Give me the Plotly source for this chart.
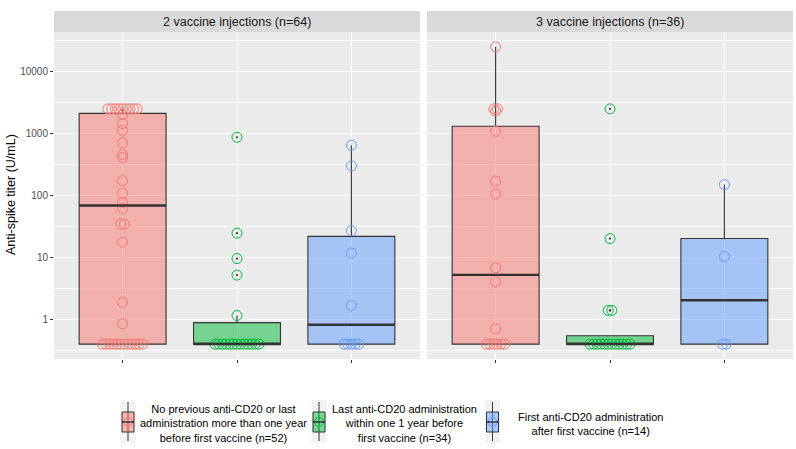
import numpy as np
import plotly.graph_objects as go

# ---------------- data ----------------
facet_labels = ["2 vaccine injections (n=64)", "3 vaccine injections (n=36)"]
group_labels = [
    "No previous anti-CD20 or last<br>administration more than one year<br>before first vaccine (n=52)",
    "Last anti-CD20 administration<br>within one 1 year before<br>first vaccine (n=34)",
    "First anti-CD20 administration<br>after first vaccine (n=14)",
]
group_colors = ["#F8766D", "#00BA38", "#619CFF"]
fill_colors = ["rgba(248,118,109,0.5)", "rgba(0,186,56,0.5)", "rgba(97,156,255,0.5)"]

# 2 vaccine injections
titer_2inj_none = [2500, 2500, 2500, 2500, 2500, 2500, 2500, 2500, 2500,
                   2000, 1450, 1130, 707, 458, 410, 173, 109, 77, 62,
                   34.6, 34.6, 17.7, 1.88, 0.85,
                   0.4, 0.4, 0.4, 0.4, 0.4, 0.4, 0.4, 0.4, 0.4, 0.4, 0.4, 0.4]
titer_2inj_within1y = [870, 24.7, 9.6, 5.2, 1.16,
                       0.4, 0.4, 0.4, 0.4, 0.4, 0.4, 0.4, 0.4, 0.4, 0.4, 0.4, 0.4, 0.4]
titer_2inj_after = [647, 300, 27, 11.7, 1.68, 0.4, 0.4, 0.4, 0.4, 0.4]

# 3 vaccine injections
titer_3inj_none = [25000, 2500, 2500, 2300, 1090, 170, 106, 6.8, 4.05, 0.71,
                   0.4, 0.4, 0.4, 0.4, 0.4, 0.4]
titer_3inj_within1y = [2500, 20.2, 1.4, 1.4,
                       0.4, 0.4, 0.4, 0.4, 0.4, 0.4, 0.4, 0.4, 0.4, 0.4, 0.4, 0.4]
titer_3inj_after = [150, 10.4, 0.4, 0.4]

y_ticks = [1, 10, 100, 1000, 10000]
y_tick_labels = ["1", "10", "100", "1000", "10000"]

panels = [
    [titer_2inj_none, titer_2inj_within1y, titer_2inj_after],
    [titer_3inj_none, titer_3inj_within1y, titer_3inj_after],
]

# ---------------- helpers ----------------
W, H = 796, 449
def px(x):
    return x / W
def py(y):
    return 1 - y / H

def box_stats(vals):
    lv = np.log10(np.sort(np.asarray(vals, dtype=float)))
    q1, med, q3 = np.quantile(lv, [0.25, 0.5, 0.75])
    iqr = q3 - q1
    lo = lv[lv >= q1 - 1.5 * iqr].min()
    hi = lv[lv <= q3 + 1.5 * iqr].max()
    out = [10 ** v for v in lv if v < q1 - 1.5 * iqr or v > q3 + 1.5 * iqr]
    return 10 ** q1, 10 ** med, 10 ** q3, 10 ** lo, 10 ** hi, out

def tie_offsets(vals, center, step=0.032):
    arr = np.asarray(vals, dtype=float)
    xs = np.zeros(len(arr))
    for v in np.unique(arr):
        idx = np.where(arr == v)[0]
        k = len(idx)
        xs[idx] = center + (np.arange(k) - (k - 1) / 2) * step
    return xs

BOX_W = 0.76
fig = go.Figure()

for p, groups in enumerate(panels):
    xa = "x" if p == 0 else "x2"
    # points (drawn first)
    for g, vals in enumerate(groups):
        pos = g + 1
        fig.add_trace(go.Scatter(
            x=tie_offsets(vals, pos), y=vals, xaxis=xa, yaxis="y",
            mode="markers", showlegend=False, hoverinfo="y",
            marker=dict(symbol="circle-open", size=10, color=group_colors[g],
                        line=dict(width=1, color=group_colors[g])),
        ))
    for g, vals in enumerate(groups):
        pos = g + 1
        q1, med, q3, lo, hi, out = box_stats(vals)
        fig.add_trace(go.Box(
            x=[pos], q1=[q1], median=[med], q3=[q3], lowerfence=[lo], upperfence=[hi],
            xaxis=xa, yaxis="y", width=BOX_W, whiskerwidth=0,
            fillcolor=fill_colors[g], line=dict(color="#333333", width=1.1),
            showlegend=False, hoverinfo="skip",
        ))
        fig.add_trace(go.Scatter(
            x=[pos - BOX_W / 2, pos + BOX_W / 2], y=[med, med], xaxis=xa, yaxis="y",
            mode="lines", line=dict(color="#333333", width=2.4),
            showlegend=False, hoverinfo="skip",
        ))
        if out:
            fig.add_trace(go.Scatter(
                x=[pos] * len(out), y=out, xaxis=xa, yaxis="y", mode="markers",
                marker=dict(size=2.2, color="#333333"), showlegend=False, hoverinfo="skip",
            ))

minor_vals = [10 ** (k + 0.5) for k in range(-1, 5)]
axis_common = dict(
    range=[0.4, 3.6], tickvals=[1, 2, 3], ticktext=["", "", ""],
    ticks="outside", ticklen=3, tickcolor="#333333", tickwidth=1,
    showgrid=True, gridcolor="white", gridwidth=1.1, zeroline=False,
    showline=False, fixedrange=True,
)
fig.update_layout(
    width=W, height=H,
    margin=dict(l=0, r=0, t=0, b=0),
    paper_bgcolor="white", plot_bgcolor="#EBEBEB",
    font=dict(family="Liberation Sans, Arial, sans-serif", color="#4D4D4D"),
    showlegend=False,
    xaxis=dict(domain=[px(54), px(420)], anchor="y", **axis_common),
    xaxis2=dict(domain=[px(427), px(793)], anchor="y", **axis_common),
    yaxis=dict(
        type="log", range=[-0.638, 4.638], domain=[py(359), py(32)], anchor="x",
        tickvals=y_ticks, ticktext=y_tick_labels,
        tickfont=dict(size=10, color="#4D4D4D"),
        ticks="outside", ticklen=3, tickcolor="#333333",
        showgrid=True, gridcolor="white", gridwidth=1.1, zeroline=False, showline=False,
        minor=dict(tickvals=minor_vals, showgrid=True, gridcolor="white", gridwidth=0.5, ticks=""),
    ),
)

shapes = []
annotations = []
# strips
for (x0, x1), lab in zip([(54, 420), (427, 793)], facet_labels):
    shapes.append(dict(type="rect", xref="paper", yref="paper", x0=px(x0), x1=px(x1),
                       y0=py(32), y1=py(11), fillcolor="#D9D9D9", line=dict(width=0), layer="below"))
    annotations.append(dict(xref="paper", yref="paper", x=px((x0 + x1) / 2), y=py(21.5),
                            text=lab, showarrow=False, xanchor="center", yanchor="middle",
                            font=dict(size=12.5, color="#1A1A1A")))
# y title
annotations.append(dict(xref="paper", yref="paper", x=px(11), y=py(195), text="Anti-spike titer (U/mL)",
                        textangle=-90, showarrow=False, xanchor="center", yanchor="middle",
                        font=dict(size=12.5, color="#000000")))

# legend (ggplot style, bottom)
key_cx = [128, 319, 492.5]
text_cx = [223, 405, 591]
for g in range(3):
    cx = key_cx[g]
    shapes.append(dict(type="rect", xref="paper", yref="paper", x0=px(cx - 7.5), x1=px(cx + 7.5),
                       y0=py(443), y1=py(400), fillcolor="#F2F2F2", line=dict(width=0)))
    shapes.append(dict(type="line", xref="paper", yref="paper", x0=px(cx), x1=px(cx),
                       y0=py(441), y1=py(402), line=dict(color="#333333", width=1)))
    shapes.append(dict(type="rect", xref="paper", yref="paper", x0=px(cx - 6), x1=px(cx + 6),
                       y0=py(432), y1=py(412), fillcolor=fill_colors[g],
                       line=dict(color="#333333", width=1)))
    shapes.append(dict(type="circle", xref="paper", yref="paper", x0=px(cx - 4.5), x1=px(cx + 4.5),
                       y0=py(426.5), y1=py(417.5), line=dict(color=group_colors[g], width=1)))
    shapes.append(dict(type="line", xref="paper", yref="paper", x0=px(cx - 6), x1=px(cx + 6),
                       y0=py(422), y1=py(422), line=dict(color="#333333", width=1.5)))
    annotations.append(dict(xref="paper", yref="paper", x=px(text_cx[g]), y=py(423.5),
                            text=group_labels[g], showarrow=False, align="center",
                            xanchor="center", yanchor="middle",
                            font=dict(size=11, color="#000000")))

fig.update_layout(shapes=shapes, annotations=annotations)
fig.write_html("out.html", config={"displayModeBar": False},
               post_script="document.body.style.margin='0';document.body.style.overflow='hidden';")
